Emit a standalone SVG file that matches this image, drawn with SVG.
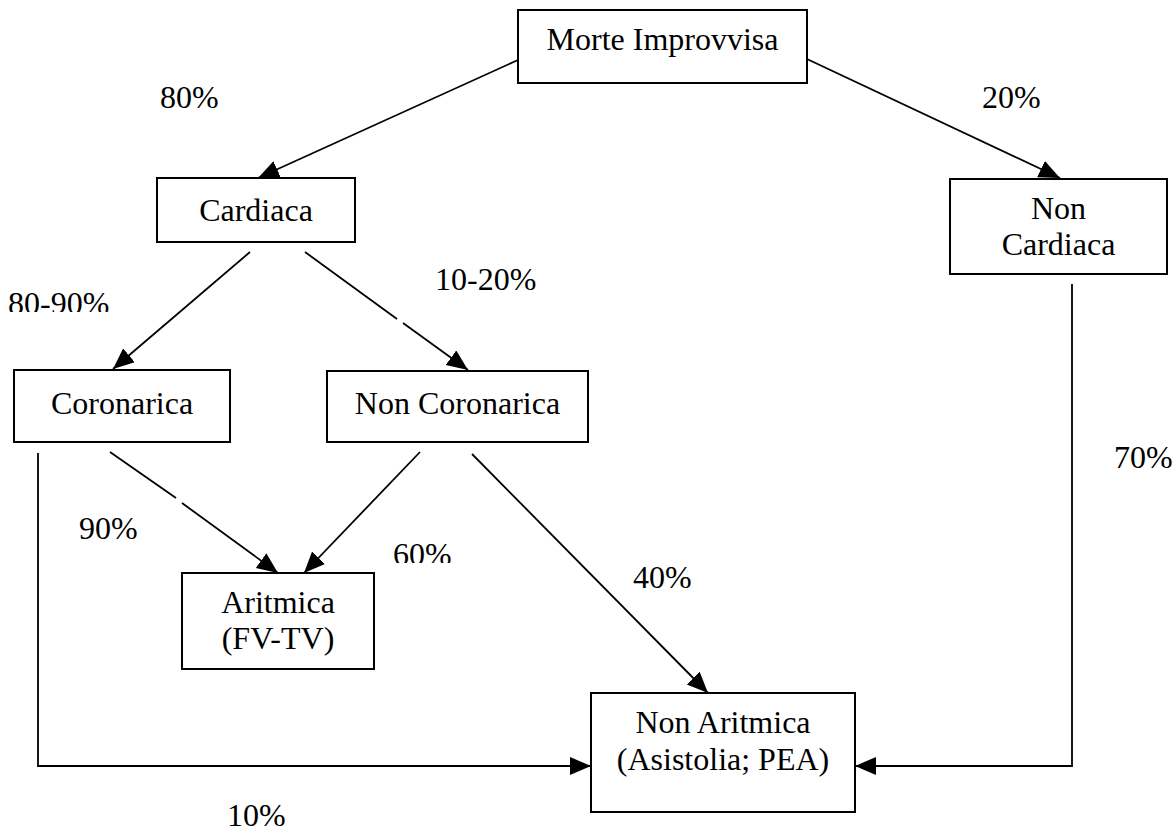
<svg xmlns="http://www.w3.org/2000/svg" width="1175" height="832" viewBox="0 0 1175 832">
<style>
.box{fill:#fff;stroke:#000;stroke-width:2}
.t{font-family:"Liberation Serif","Times New Roman",serif;font-size:32px;fill:#000}
.m{text-anchor:middle}
.c{fill:none;stroke:#000;stroke-width:1.8}
</style>
<defs>
<marker id="ah" markerUnits="userSpaceOnUse" markerWidth="22" markerHeight="20" refX="21" refY="9" orient="auto">
<path d="M0,0 L21,9 L0,18 Z" fill="#000"/>
</marker>
<clipPath id="cl1"><rect x="0" y="280" width="200" height="32"/></clipPath>
<clipPath id="cl2"><rect x="380" y="530" width="100" height="33"/></clipPath>
</defs>
<rect width="1175" height="832" fill="#fff"/>
<g id="connectors">
<line class="c" x1="518" y1="60" x2="258" y2="178" marker-end="url(#ah)"/>
<line class="c" x1="807" y1="59" x2="1060" y2="178" marker-end="url(#ah)"/>
<line class="c" x1="250" y1="252" x2="113" y2="369" marker-end="url(#ah)"/>
<path class="c" d="M305,252 L397,319 M403,323 L468,370" marker-end="url(#ah)"/>
<path class="c" d="M110,452 L176,498 M182,503 L278,573" marker-end="url(#ah)"/>
<line class="c" x1="420" y1="452" x2="304" y2="573" marker-end="url(#ah)"/>
<line class="c" x1="472" y1="454" x2="708" y2="693" marker-end="url(#ah)"/>
<polyline class="c" points="38,453 38,766 591,766" marker-end="url(#ah)"/>
<polyline class="c" points="1072,284 1072,766 855,766" marker-end="url(#ah)"/>
</g>
<g id="morte"><rect class="box" x="518" y="10" width="289" height="73"/><text class="t m" x="662.5" y="50">Morte Improvvisa</text></g>
<g id="cardiaca"><rect class="box" x="157" y="178" width="198" height="64"/><text class="t m" x="256" y="221">Cardiaca</text></g>
<g id="noncardiaca"><rect class="box" x="950" y="179" width="217" height="95"/><text class="t m" x="1058.5" y="219">Non</text><text class="t m" x="1058.5" y="255">Cardiaca</text></g>
<g id="coronarica"><rect class="box" x="14" y="370" width="216" height="72"/><text class="t m" x="122" y="414">Coronarica</text></g>
<g id="noncoronarica"><rect class="box" x="327" y="371" width="261" height="71"/><text class="t m" x="457.5" y="414">Non Coronarica</text></g>
<g id="aritmica"><rect class="box" x="182" y="573" width="192" height="96"/><text class="t m" x="278" y="613">Aritmica</text><text class="t m" x="278" y="649">(FV-TV)</text></g>
<g id="nonaritmica"><rect class="box" x="591" y="693" width="264" height="119"/><text class="t m" x="723" y="733">Non Aritmica</text><text class="t m" x="723" y="770">(Asistolia; PEA)</text></g>
<g id="labels">
<text class="t" x="160" y="108">80%</text>
<text class="t" x="982" y="108">20%</text>
<text class="t" x="8" y="314" clip-path="url(#cl1)">80-90%</text>
<text class="t" x="435" y="290">10-20%</text>
<text class="t" x="79" y="539">90%</text>
<text class="t" x="393" y="565" clip-path="url(#cl2)">60%</text>
<text class="t" x="633" y="588">40%</text>
<text class="t" x="1114" y="468">70%</text>
<text class="t" x="227" y="826">10%</text>
</g>
</svg>
